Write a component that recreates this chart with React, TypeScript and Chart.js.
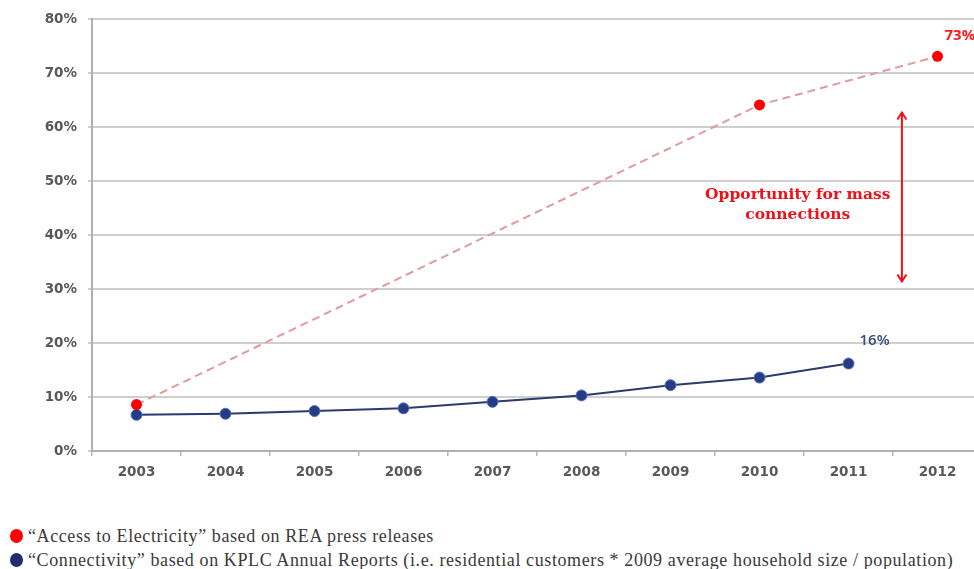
import React, { useEffect, useRef } from "react";
import { Chart, registerables } from "chart.js";

Chart.register(...registerables);

const years = ["2003", "2004", "2005", "2006", "2007", "2008", "2009", "2010", "2011", "2012"];
const accessToElectricity: (number | null)[] = [0.086, null, null, null, null, null, null, 0.641, null, 0.731];
const connectivity: (number | null)[] = [0.067, 0.069, 0.074, 0.079, 0.091, 0.103, 0.122, 0.136, 0.162, null];
const legendLabels = [
  "\u201CAccess to Electricity\u201D based on REA press releases",
  "\u201CConnectivity\u201D based on KPLC Annual Reports (i.e. residential customers * 2009 average household size / population)",
];
const accessLabel = "73%";
const connectivityLabel = "16%";
const opportunityLines = ["Opportunity for mass", "connections"];
const opportunityTextPos = { x: 7.43, y: [0.475, 0.438] };
const arrowPos = { x: 8.6, top: 0.627, bottom: 0.314 };

const RED = "#ff0000";
const NAVY = "#253c85";

const annotationPlugin = {
  id: "annotations",
  afterDatasetsDraw(chart: any) {
    const ctx = chart.ctx;
    const xs = chart.scales.x;
    const ys = chart.scales.y;
    ctx.save();
    // value labels
    const ax = xs.getPixelForValue(9);
    const ay = ys.getPixelForValue(accessToElectricity[9] as number);
    ctx.font = "bold 15px 'Open Sans', sans-serif";
    ctx.fillStyle = "#ff1a1a";
    ctx.textAlign = "left";
    ctx.textBaseline = "middle";
    ctx.fillText(accessLabel, ax + 7, ay - 21);
    const bx = xs.getPixelForValue(8);
    const by = ys.getPixelForValue(connectivity[8] as number);
    ctx.fillStyle = "#3a4a84";
    ctx.font = "600 15px 'Open Sans', sans-serif";
    ctx.fillText(connectivityLabel, bx + 11, by - 23);
    // opportunity text
    ctx.fillStyle = "#f0101a";
    ctx.font = "bold 15.5px 'DejaVu Serif', serif";
    ctx.textAlign = "center";
    const tx = xs.getPixelForValue(opportunityTextPos.x);
    opportunityLines.forEach((line, i) => {
      ctx.fillText(line, tx, ys.getPixelForValue(opportunityTextPos.y[i]));
    });
    // arrow
    const px = xs.getPixelForValue(arrowPos.x);
    const top = ys.getPixelForValue(arrowPos.top);
    const bot = ys.getPixelForValue(arrowPos.bottom);
    ctx.strokeStyle = "#f0101a";
    ctx.lineWidth = 2;
    ctx.beginPath();
    ctx.moveTo(px, top);
    ctx.lineTo(px, bot);
    ctx.moveTo(px - 4.5, top + 7);
    ctx.lineTo(px, top);
    ctx.lineTo(px + 4.5, top + 7);
    ctx.moveTo(px - 4.5, bot - 7);
    ctx.lineTo(px, bot);
    ctx.lineTo(px + 4.5, bot - 7);
    ctx.stroke();
    ctx.restore();
  },
};

export default function App() {
  const ref = useRef<HTMLCanvasElement | null>(null);
  useEffect(() => {
    if (!ref.current) return;
    const tickFont = { family: "'DejaVu Sans', Verdana, sans-serif", size: 13.5, weight: "bold" as const };
    const chart = new Chart(ref.current, {
      type: "line",
      data: {
        labels: years,
        datasets: [
          {
            label: legendLabels[0],
            data: accessToElectricity,
            borderColor: "#e39a9a",
            borderWidth: 2,
            borderDash: [8, 5],
            pointBackgroundColor: RED,
            pointBorderColor: RED,
            pointBorderWidth: 0,
            pointRadius: 5.5,
            spanGaps: true,
            tension: 0,
          },
          {
            label: legendLabels[1],
            data: connectivity,
            borderColor: "#2d3a6a",
            borderWidth: 2,
            pointBackgroundColor: NAVY,
            pointBorderColor: "#5572c4",
            pointBorderWidth: 1,
            pointRadius: 5.5,
            tension: 0,
          },
        ],
      },
      options: {
        responsive: false,
        animation: false,
        devicePixelRatio: 1,
        layout: { padding: { top: 16, right: 18, bottom: 0, left: 0 } },
        plugins: { legend: { display: false }, tooltip: { enabled: false } },
        scales: {
          x: {
            offset: true,
            grid: { offset: true, drawOnChartArea: false, drawTicks: true, tickLength: 5, color: "#b8b8b8", lineWidth: 1.5 },
            border: { color: "#b0b0b0", width: 2 },
            ticks: { color: "#595959", font: tickFont, padding: 8, maxRotation: 0 },
            afterFit: (s: any) => { s.height = 39; },
          },
          y: {
            min: 0,
            max: 0.8,
            grid: { color: "#cfcfcf", lineWidth: 2, tickLength: 4 },
            border: { color: "#b0b0b0", width: 2 },
            ticks: {
              stepSize: 0.1,
              color: "#595959",
              font: tickFont,
              padding: 11,
              callback: (v: any) => Math.round(Number(v) * 100) + "%",
            },
            afterFit: (s: any) => { s.width = 92; },
          },
        },
      },
      plugins: [annotationPlugin],
    });
    return () => chart.destroy();
  }, []);

  const markerColors = [RED, "#1f2f6e"];
  return (
    <div style={{ position: "fixed", left: 0, top: 0, width: 974, height: 569, overflow: "hidden", background: "#fff" }}>
      <canvas ref={ref} width={1000} height={490} style={{ position: "absolute", left: 0, top: 0 }} />
      {legendLabels.map((t, i) => (
        <div
          key={i}
          style={{
            position: "absolute",
            left: 10,
            top: 525 + i * 24,
            height: 22,
            display: "flex",
            alignItems: "center",
            whiteSpace: "nowrap",
            fontFamily: "'Liberation Serif', serif",
            fontSize: 18,
            letterSpacing: 0.6,
            color: "#3a3a3a",
          }}
        >
          <span style={{ display: "inline-block", width: 13, height: 14, borderRadius: "50%", background: markerColors[i], marginRight: 5 }} />
          <span>{t}</span>
        </div>
      ))}
    </div>
  );
}
